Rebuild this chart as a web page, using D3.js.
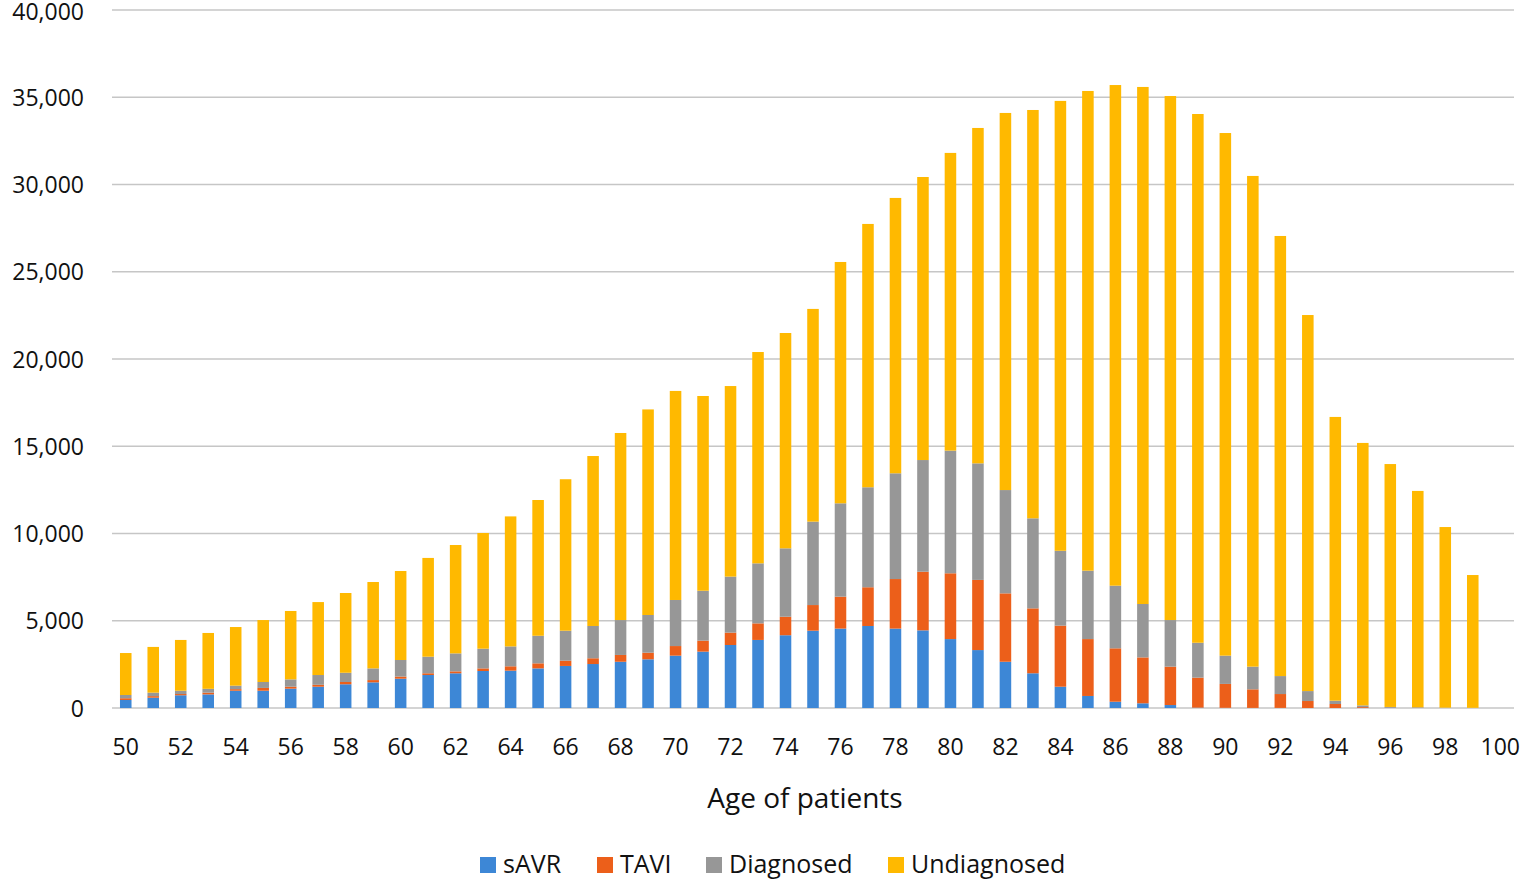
<!DOCTYPE html>
<html>
<head>
<meta charset="utf-8">
<script src="https://cdn.jsdelivr.net/npm/d3@7"></script>
<style>
  body { margin: 0; background: #fff; }
  svg text { font-family: "Open Sans", "Noto Sans", sans-serif; fill: #111; }
</style>
</head>
<body>
<svg id="chart" width="1524" height="881"></svg>
<script>
// ages on the axis (100 has no bar)
const ages = [50, 51, 52, 53, 54, 55, 56, 57, 58, 59, 60, 61, 62, 63, 64, 65, 66, 67, 68, 69,
  70, 71, 72, 73, 74, 75, 76, 77, 78, 79, 80, 81, 82, 83, 84, 85, 86, 87, 88, 89,
  90, 91, 92, 93, 94, 95, 96, 97, 98, 99, 100];
const tickAges = [50, 52, 54, 56, 58, 60, 62, 64, 66, 68, 70, 72, 74, 76, 78, 80, 82, 84, 86, 88, 90, 92, 94, 96, 98, 100];
const yTicks = [0, 5000, 10000, 15000, 20000, 25000, 30000, 35000, 40000];

// one value per age 50..99
const sAVR = [460, 590, 730, 780, 990, 990, 1110, 1220, 1360, 1470, 1680, 1890, 1990, 2120, 2140, 2270, 2410, 2520, 2650, 2790,
  3000, 3230, 3610, 3900, 4170, 4430, 4550, 4700, 4550, 4450, 3950, 3320, 2650, 1990, 1220, 690, 360, 270, 170, 20,
  10, 5, 5, 0, 0, 0, 0, 0, 0, 0];
const TAVI = [100, 90, 70, 100, 90, 160, 110, 110, 130, 130, 120, 100, 110, 150, 250, 290, 300, 330, 390, 380,
  550, 630, 710, 950, 1060, 1470, 1830, 2220, 2840, 3360, 3770, 4020, 3920, 3720, 3500, 3260, 3060, 2630, 2200, 1720,
  1370, 1065, 795, 400, 230, 50, 10, 5, 0, 0];
const diagnosed = [185, 200, 190, 220, 200, 340, 420, 560, 530, 670, 950, 950, 1030, 1130, 1140, 1580, 1720, 1850, 2000, 2160,
  2640, 2860, 3210, 3440, 3920, 4780, 5350, 5730, 6060, 6400, 7030, 6680, 5920, 5160, 4290, 3920, 3590, 3060, 2670, 2000,
  1620, 1300, 1030, 570, 190, 100, 50, 35, 20, 10];
const undiagnosed = [2405, 2620, 2910, 3200, 3360, 3550, 3920, 4180, 4570, 4950, 5100, 5660, 6210, 6630, 7450, 7780, 8680, 9740, 10720, 11780,
  11980, 11160, 10920, 12110, 12340, 12190, 13830, 15090, 15780, 16220, 17060, 19220, 21610, 23400, 25780, 27490, 28690, 29630, 30030, 30300,
  29950, 28120, 25220, 21550, 16260, 15040, 13920, 12400, 10350, 7610];

const seriesNames = ['sAVR', 'TAVI', 'Diagnosed', 'Undiagnosed'];
const colors = ['#3d87d6', '#ec5f1a', '#979797', '#ffb900'];

const svg = d3.select('#chart');
const plotLeft = 112, plotRight = 1514, plotTop = 10, plotBottom = 708;

const x = d3.scaleBand().domain(ages).range([plotLeft, plotRight]).paddingInner(0.58).paddingOuter(0.29);
const y = d3.scaleLinear().domain([0, 40000]).range([plotBottom, plotTop]);

const rows = sAVR.map((v, i) => ({
  age: ages[i], sAVR: v, TAVI: TAVI[i], Diagnosed: diagnosed[i], Undiagnosed: undiagnosed[i]
}));
const stacked = d3.stack().keys(seriesNames)(rows);

// gridlines
svg.append('g').selectAll('line').data(yTicks).join('line')
  .attr('x1', plotLeft).attr('x2', plotRight)
  .attr('y1', d => y(d)).attr('y2', d => y(d))
  .attr('stroke', '#c6c6c6').attr('stroke-width', 1.5);

// y labels
svg.append('g').selectAll('text').data(yTicks).join('text')
  .attr('x', 84).attr('y', d => Math.max(y(d) + 8.5, 20))
  .attr('text-anchor', 'end').attr('font-size', 23)
  .text(d => d3.format(',')(d));

// bars
svg.append('g').selectAll('g').data(stacked).join('g')
  .attr('fill', (d, i) => colors[i])
  .selectAll('rect').data(d => d).join('rect')
  .attr('x', d => x(d.data.age))
  .attr('width', x.bandwidth())
  .attr('y', d => y(d[1]))
  .attr('height', d => Math.max(0, y(d[0]) - y(d[1])));

// x labels
svg.append('g').selectAll('text').data(tickAges).join('text')
  .attr('x', d => x(d) + x.bandwidth() / 2).attr('y', 755)
  .attr('text-anchor', 'middle').attr('font-size', 23)
  .text(d => d);

svg.append('text').attr('x', 805).attr('y', 808)
  .attr('text-anchor', 'middle').attr('font-size', 28)
  .text('Age of patients');

// legend
const legendX = [480, 597, 706, 888];
const lg = svg.append('g').selectAll('g').data(seriesNames).join('g')
  .attr('transform', (d, i) => `translate(${legendX[i]},857)`);
lg.append('rect').attr('width', 16).attr('height', 16).attr('y', 0)
  .attr('fill', (d, i) => colors[i]);
lg.append('text').attr('x', 23).attr('y', 16).attr('font-size', 25).text(d => d);
</script>
</body>
</html>
